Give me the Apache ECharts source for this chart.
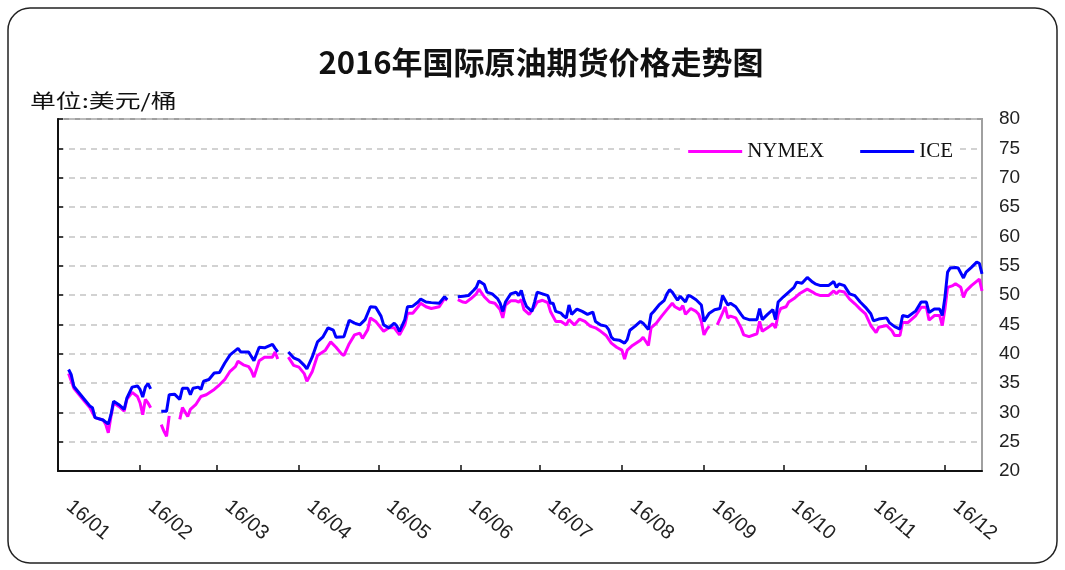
<!DOCTYPE html>
<html>
<head>
<meta charset="utf-8">
<title>2016年国际原油期货价格走势图</title>
<script src="https://cdn.jsdelivr.net/npm/echarts@6/dist/echarts.min.js"></script>
<style>
  html, body { margin: 0; padding: 0; background: #fff; }
  #chart { width: 1065px; height: 570px; }
</style>
</head>
<body>
<div id="chart"></div>
<script>
// month tick labels on the date axis
var months = ['16/01', '16/02', '16/03', '16/04', '16/05', '16/06',
  '16/07', '16/08', '16/09', '16/10', '16/11', '16/12'];
var yMin = 20, yMax = 80, yStep = 5;

// ICE, 美元/桶 (null = holiday gap)
var iceDates = [
  '2016-01-05', '2016-01-06', '2016-01-07', '2016-01-09', '2016-01-11', '2016-01-13', '2016-01-14', '2016-01-15',
  '2016-01-18', '2016-01-20', '2016-01-21', '2016-01-22', '2016-01-24', '2016-01-26', '2016-01-27', '2016-01-29',
  '2016-01-31', '2016-02-01', '2016-02-02', '2016-02-03', '2016-02-04', '2016-02-05', '2016-02-07', '2016-02-09',
  '2016-02-11', '2016-02-12', '2016-02-14', '2016-02-16', '2016-02-17', '2016-02-19', '2016-02-20', '2016-02-21',
  '2016-02-23', '2016-02-24', '2016-02-25', '2016-02-27', '2016-02-29', '2016-03-02', '2016-03-04', '2016-03-06',
  '2016-03-09', '2016-03-10', '2016-03-13', '2016-03-15', '2016-03-17', '2016-03-19', '2016-03-22', '2016-03-23',
  '2016-03-24', '2016-03-26', '2016-03-28', '2016-03-30', '2016-04-01', '2016-04-03', '2016-04-04', '2016-04-06',
  '2016-04-08', '2016-04-10', '2016-04-12', '2016-04-14', '2016-04-15', '2016-04-18', '2016-04-20', '2016-04-22',
  '2016-04-24', '2016-04-26', '2016-04-28', '2016-04-30', '2016-05-02', '2016-05-03', '2016-05-05', '2016-05-07',
  '2016-05-08', '2016-05-09', '2016-05-11', '2016-05-12', '2016-05-14', '2016-05-16', '2016-05-17', '2016-05-19',
  '2016-05-21', '2016-05-24', '2016-05-26', '2016-05-27', '2016-05-29', '2016-05-31', '2016-06-02', '2016-06-04',
  '2016-06-06', '2016-06-07', '2016-06-08', '2016-06-10', '2016-06-11', '2016-06-13', '2016-06-15', '2016-06-16',
  '2016-06-17', '2016-06-18', '2016-06-20', '2016-06-22', '2016-06-23', '2016-06-24', '2016-06-25', '2016-06-26',
  '2016-06-28', '2016-06-29', '2016-06-30', '2016-07-02', '2016-07-04', '2016-07-05', '2016-07-06', '2016-07-07',
  '2016-07-09', '2016-07-10', '2016-07-11', '2016-07-12', '2016-07-13', '2016-07-15', '2016-07-17', '2016-07-19',
  '2016-07-21', '2016-07-22', '2016-07-24', '2016-07-26', '2016-07-27', '2016-07-28', '2016-07-29', '2016-07-31',
  '2016-08-02', '2016-08-03', '2016-08-04', '2016-08-06', '2016-08-08', '2016-08-09', '2016-08-11', '2016-08-12',
  '2016-08-13', '2016-08-15', '2016-08-17', '2016-08-18', '2016-08-19', '2016-08-20', '2016-08-22', '2016-08-23',
  '2016-08-25', '2016-08-26', '2016-08-27', '2016-08-29', '2016-08-31', '2016-09-01', '2016-09-03', '2016-09-05',
  '2016-09-07', '2016-09-08', '2016-09-10', '2016-09-11', '2016-09-13', '2016-09-15', '2016-09-16', '2016-09-18',
  '2016-09-21', '2016-09-22', '2016-09-23', '2016-09-25', '2016-09-27', '2016-09-28', '2016-09-29', '2016-10-01',
  '2016-10-03', '2016-10-05', '2016-10-06', '2016-10-08', '2016-10-10', '2016-10-12', '2016-10-13', '2016-10-15',
  '2016-10-18', '2016-10-20', '2016-10-21', '2016-10-22', '2016-10-24', '2016-10-26', '2016-10-28', '2016-10-30',
  '2016-11-01', '2016-11-03', '2016-11-04', '2016-11-06', '2016-11-09', '2016-11-10', '2016-11-12', '2016-11-14',
  '2016-11-15', '2016-11-17', '2016-11-20', '2016-11-22', '2016-11-24', '2016-11-25', '2016-11-27', '2016-11-29',
  '2016-11-30', '2016-12-01', '2016-12-02', '2016-12-03', '2016-12-05', '2016-12-06', '2016-12-08', '2016-12-09',
  '2016-12-11', '2016-12-13', '2016-12-14', '2016-12-15'
];
var iceValues = [
  37.3, 36.4, 34.4, 33.3, 32.2, 31.1, 30.8, 29.1,
  28.7, 28.0, 29.6, 31.9, 31.3, 30.5, 32.4, 34.3,
  34.5, 33.9, 32.6, 34.3, 34.9, 34.0, null, 30.2,
  30.2, 33.0, 33.1, 32.2, 34.1, 34.1, 33.0, 34.1,
  34.3, 33.9, 35.3, 35.6, 36.7, 36.8, 38.4, 39.8,
  40.9, 40.3, 40.3, 38.8, 41.1, 41.0, 41.6, 40.9,
  40.3, null, 40.3, 39.3, 38.9, 38.0, 37.4, 39.4,
  42.0, 42.8, 44.4, 44.0, 42.8, 42.9, 45.7, 45.2,
  44.9, 45.8, 48.0, 47.9, 46.4, 44.9, 44.4, 45.2,
  44.7, 43.8, 45.8, 48.0, 48.1, 48.8, 49.3, 48.8,
  48.7, 48.6, 49.7, 49.2, null, 49.7, 49.8, 49.9,
  50.8, 51.3, 52.4, 51.8, 50.5, 50.2, 49.4, 48.6,
  47.2, 48.8, 50.2, 50.5, 49.9, 50.8, 49.1, 48.0,
  47.2, 48.8, 50.5, 50.2, 49.9, 48.6, 48.6, 47.2,
  46.9, 46.4, 46.1, 48.3, 46.7, 47.6, 47.2, 46.7,
  47.1, 45.5, 44.9, 44.7, 44.1, 42.8, 42.4, 42.3,
  41.8, 42.4, 44.0, 44.7, 45.5, 45.2, 44.1, 46.7,
  47.2, 48.3, 49.1, 50.2, 50.9, 50.5, 49.1, 49.8,
  48.8, 49.9, 49.8, 49.2, 48.3, 45.5, 46.9, 47.5,
  47.7, 49.9, 48.3, 48.6, 48.0, 46.7, 46.1, 45.8,
  45.8, 47.7, 45.8, 46.7, 47.5, 45.8, 48.8, 49.7,
  50.5, 51.3, 52.2, 52.0, 53.0, 52.2, 51.9, 51.6,
  51.6, 52.3, 51.3, 51.9, 51.6, 50.2, 49.9, 48.8,
  47.9, 46.8, 45.6, 45.9, 46.1, 45.3, 44.6, 44.2,
  46.5, 46.3, 47.3, 48.8, 48.8, 47.0, 47.6, 47.6,
  46.5, 49.6, 53.9, 54.6, 54.7, 54.6, 52.9, 53.9,
  54.7, 55.6, 55.4, 53.6
];

// NYMEX, 美元/桶 (null = holiday gap)
var nymexDates = [
  '2016-01-05', '2016-01-07', '2016-01-09', '2016-01-11', '2016-01-13', '2016-01-15', '2016-01-18', '2016-01-19',
  '2016-01-20', '2016-01-21', '2016-01-22', '2016-01-24', '2016-01-26', '2016-01-27', '2016-01-29', '2016-01-31',
  '2016-02-01', '2016-02-02', '2016-02-03', '2016-02-04', '2016-02-05', '2016-02-07', '2016-02-09', '2016-02-10',
  '2016-02-11', '2016-02-12', '2016-02-14', '2016-02-16', '2016-02-17', '2016-02-19', '2016-02-20', '2016-02-22',
  '2016-02-24', '2016-02-26', '2016-02-29', '2016-03-02', '2016-03-04', '2016-03-06', '2016-03-08', '2016-03-09',
  '2016-03-11', '2016-03-13', '2016-03-14', '2016-03-15', '2016-03-17', '2016-03-19', '2016-03-22', '2016-03-23',
  '2016-03-24', '2016-03-26', '2016-03-28', '2016-03-30', '2016-04-01', '2016-04-03', '2016-04-04', '2016-04-06',
  '2016-04-08', '2016-04-11', '2016-04-13', '2016-04-15', '2016-04-17', '2016-04-18', '2016-04-20', '2016-04-22',
  '2016-04-24', '2016-04-25', '2016-04-27', '2016-04-28', '2016-04-30', '2016-05-03', '2016-05-05', '2016-05-07',
  '2016-05-09', '2016-05-11', '2016-05-12', '2016-05-14', '2016-05-16', '2016-05-17', '2016-05-19', '2016-05-21',
  '2016-05-24', '2016-05-26', '2016-05-27', '2016-05-29', '2016-05-31', '2016-06-02', '2016-06-03', '2016-06-05',
  '2016-06-07', '2016-06-08', '2016-06-10', '2016-06-12', '2016-06-14', '2016-06-16', '2016-06-17', '2016-06-18',
  '2016-06-20', '2016-06-22', '2016-06-23', '2016-06-24', '2016-06-25', '2016-06-27', '2016-06-29', '2016-06-30',
  '2016-07-02', '2016-07-04', '2016-07-05', '2016-07-07', '2016-07-09', '2016-07-11', '2016-07-12', '2016-07-14',
  '2016-07-16', '2016-07-18', '2016-07-20', '2016-07-22', '2016-07-24', '2016-07-26', '2016-07-28', '2016-07-30',
  '2016-08-01', '2016-08-02', '2016-08-03', '2016-08-05', '2016-08-08', '2016-08-09', '2016-08-11', '2016-08-12',
  '2016-08-14', '2016-08-16', '2016-08-18', '2016-08-20', '2016-08-21', '2016-08-23', '2016-08-24', '2016-08-25',
  '2016-08-27', '2016-08-29', '2016-08-30', '2016-08-31', '2016-09-01', '2016-09-02', '2016-09-03', '2016-09-05',
  '2016-09-06', '2016-09-08', '2016-09-09', '2016-09-10', '2016-09-11', '2016-09-13', '2016-09-15', '2016-09-16',
  '2016-09-18', '2016-09-21', '2016-09-22', '2016-09-23', '2016-09-25', '2016-09-27', '2016-09-28', '2016-09-29',
  '2016-09-30', '2016-10-02', '2016-10-03', '2016-10-05', '2016-10-07', '2016-10-10', '2016-10-12', '2016-10-13',
  '2016-10-15', '2016-10-18', '2016-10-20', '2016-10-21', '2016-10-22', '2016-10-24', '2016-10-26', '2016-10-28',
  '2016-10-30', '2016-11-01', '2016-11-03', '2016-11-05', '2016-11-06', '2016-11-09', '2016-11-11', '2016-11-12',
  '2016-11-14', '2016-11-15', '2016-11-17', '2016-11-20', '2016-11-22', '2016-11-24', '2016-11-25', '2016-11-27',
  '2016-11-29', '2016-11-30', '2016-12-01', '2016-12-02', '2016-12-04', '2016-12-05', '2016-12-07', '2016-12-08',
  '2016-12-09', '2016-12-11', '2016-12-14', '2016-12-15'
];
var nymexValues = [
  36.6, 34.1, 33.0, 31.9, 30.8, 29.1, 28.7, 28.0,
  26.5, 29.3, 31.6, 31.0, 30.2, 32.2, 33.4, 32.7,
  31.6, 29.6, 32.2, 31.6, 30.8, null, 27.9, 26.8,
  25.9, 29.4, null, 28.8, 30.8, 29.3, 30.5, 31.3,
  32.7, 33.0, 33.9, 34.7, 35.6, 37.0, 37.8, 38.7,
  38.1, 37.8, 37.1, 36.0, 38.8, 39.4, 39.4, 40.3,
  39.1, null, 39.4, 38.0, 37.7, 36.6, 35.3, 36.9,
  39.7, 40.6, 42.0, 41.1, 40.0, 39.7, 41.7, 43.2,
  43.5, 42.6, 44.1, 46.1, 45.5, 43.8, 44.4, 44.4,
  43.2, 44.9, 46.9, 46.9, 48.0, 48.6, 48.0, 47.7,
  48.0, 49.4, 49.1, null, 49.2, 48.8, 48.7, 49.4,
  50.2, 51.0, 49.7, 48.8, 48.6, 47.5, 46.1, 48.3,
  49.0, 49.0, 48.8, 49.2, 47.5, 46.7, 48.0, 48.8,
  49.1, 48.7, 47.2, 45.5, 45.5, 44.9, 45.8, 44.9,
  45.9, 45.5, 44.7, 44.4, 43.8, 43.1, 41.8, 41.1,
  40.6, 39.1, 40.6, 41.4, 42.3, 42.8, 41.4, 44.4,
  45.2, 46.4, 47.5, 48.6, 48.0, 47.5, 48.2, 46.7,
  47.7, 47.2, 46.7, 45.5, 43.2, 44.1, 44.7, null,
  44.9, 46.9, 48.0, 46.1, 46.4, 46.1, 44.4, 43.2,
  42.9, 43.4, 45.5, 43.8, 44.4, 45.1, 44.4, 46.7,
  47.7, 48.0, 48.8, 49.4, 50.2, 51.0, 50.5, 50.2,
  49.9, 49.9, 50.7, 50.2, 50.7, 50.5, 49.3, 48.5,
  47.6, 46.8, 44.8, 43.6, 44.5, 44.8, 43.9, 43.1,
  43.1, 45.3, 45.3, 46.5, 47.9, 47.9, 45.7, 46.5,
  46.5, 44.8, 47.6, 51.3, 51.6, 51.9, 51.3, 49.6,
  50.7, 51.6, 52.7, 50.7
];

// 'yyyy-mm-dd' -> local timestamp
function toTime(str) {
  var p = str.split('-');
  return new Date(+p[0], +p[1] - 1, +p[2]).getTime();
}

function pairs(dates, values) {
  return dates.map(function(d, i) {
    return [toTime(d), values[i]];
  });
}

// month starts, used for ticks + labels
var monthStarts = months.map(function(m, i) {
  return new Date(2016, i, 1).getTime();
});

var chart = echarts.init(document.getElementById('chart'));
var axisFont = 'Liberation Sans, Arial, sans-serif';

chart.setOption({
  animation: false,
  backgroundColor: '#fff',
  title: {
    text: '2016年国际原油期货价格走势图',
    left: 536,
    textAlign: 'center',
    top: 42,
    textStyle: {
      fontFamily: 'Noto Sans CJK SC',
      fontWeight: 'bold',
      fontSize: 31,
      color: '#111'
    }
  },
  graphic: [
    {
      type: 'rect',
      z: -1,
      shape: { x: 8, y: 8, width: 1049, height: 555, r: 22 },
      style: { fill: 'none', stroke: '#222', lineWidth: 1.5 }
    },
    {
      // the unit note is drawn a bit wider, like the source
      type: 'text',
      x: 30,
      y: 91,
      scaleX: 1.36,
      style: {
        text: '单位:美元/桶',
        font: '19px "Noto Sans CJK SC"',
        fill: '#111',
        verticalAlign: 'top'
      }
    }
  ],
  legend: {
    data: ['NYMEX', 'ICE'],
    right: 106,
    top: 137,
    icon: 'rect',
    itemWidth: 54,
    itemHeight: 3,
    itemGap: 36,
    backgroundColor: '#fff',
    padding: [4, 6],
    textStyle: {
      fontFamily: 'Liberation Serif, Times New Roman, serif',
      fontSize: 21,
      color: '#111'
    }
  },
  grid: {
    left: 58,
    right: 83,
    top: 119,
    bottom: 99,
    show: true,
    borderColor: '#a0a0a0',
    borderWidth: 2
  },
  xAxis: {
    type: 'value',
    min: toTime('2016-01-01'),
    max: toTime('2016-12-15'),
    axisLine: { lineStyle: { color: '#111', width: 2 } },
    axisTick: {
      inside: true,
      length: 6,
      customValues: monthStarts,
      lineStyle: { color: '#111', width: 1.5 }
    },
    axisLabel: {
      customValues: monthStarts,
      rotate: -40,
      margin: 24,
      padding: [0, 0, 0, 14],
      fontFamily: axisFont,
      fontSize: 20,
      color: '#222',
      formatter: function(value) {
        return months[new Date(value).getMonth()];
      }
    },
    splitLine: { show: false }
  },
  yAxis: [
    {
      type: 'value',
      position: 'right',
      min: yMin,
      max: yMax,
      interval: yStep,
      axisLine: { show: false },
      axisTick: { show: false },
      axisLabel: {
        margin: 17,
        fontFamily: axisFont,
        fontSize: 19,
        color: '#222'
      },
      splitLine: {
        lineStyle: { color: '#c4c4c4', width: 1.5, type: [6, 5] }
      }
    },
    {
      // black left axis with inward ticks, no labels
      type: 'value',
      position: 'left',
      min: yMin,
      max: yMax,
      interval: yStep,
      axisLine: { show: true, lineStyle: { color: '#111', width: 2 } },
      axisTick: { show: true, inside: true, length: 5, lineStyle: { color: '#111', width: 1.5 } },
      axisLabel: { show: false },
      splitLine: { show: false }
    }
  ],
  series: [
    {
      name: 'NYMEX',
      type: 'line',
      yAxisIndex: 0,
      showSymbol: false,
      connectNulls: false,
      itemStyle: { color: '#ff00ff' },
      lineStyle: { color: '#ff00ff', width: 3 },
      data: pairs(nymexDates, nymexValues)
    },
    {
      name: 'ICE',
      type: 'line',
      yAxisIndex: 0,
      showSymbol: false,
      connectNulls: false,
      itemStyle: { color: '#0000ff' },
      lineStyle: { color: '#0000ff', width: 3 },
      data: pairs(iceDates, iceValues)
    }
  ]
});
</script>
</body>
</html>
